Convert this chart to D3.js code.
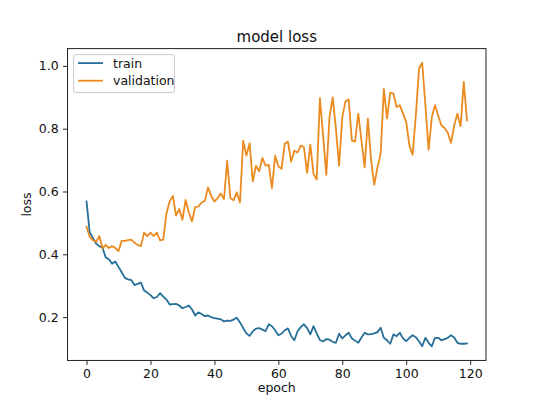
<!DOCTYPE html>
<html>
<head>
<meta charset="utf-8">
<script src="https://cdn.jsdelivr.net/npm/d3@7"></script>
<style>
  html, body { margin: 0; padding: 0; background: #fff; }
  svg { display: block; font-family: "DejaVu Sans", sans-serif; }
</style>
</head>
<body>
<svg id="chart" width="540" height="405"></svg>
<script>
const title = "model loss";
const xLabel = "epoch";
const yLabel = "loss";
const seriesNames = ["train", "validation"];
const xTicks = [0, 20, 40, 60, 80, 100, 120];
const yTicks = [0.2, 0.4, 0.6, 0.8, 1.0];

const train = [
  0.568, 0.470, 0.452, 0.434, 0.426, 0.421, 0.390, 0.384, 0.370, 0.377,
  0.360, 0.343, 0.325, 0.320, 0.318, 0.302, 0.306, 0.310, 0.285, 0.278,
  0.270, 0.260, 0.264, 0.276, 0.265, 0.256, 0.240, 0.241, 0.242, 0.237,
  0.228, 0.232, 0.237, 0.224, 0.205, 0.215, 0.210, 0.203, 0.205, 0.200,
  0.197, 0.195, 0.193, 0.186, 0.189, 0.188, 0.192, 0.198, 0.183, 0.165,
  0.148, 0.140, 0.155, 0.163, 0.165, 0.160, 0.155, 0.177, 0.171, 0.158,
  0.142, 0.147, 0.158, 0.164, 0.140, 0.126, 0.155, 0.168, 0.177, 0.165,
  0.145, 0.171, 0.148, 0.127, 0.122, 0.130, 0.128, 0.121, 0.118, 0.147,
  0.132, 0.142, 0.150, 0.132, 0.125, 0.118, 0.135, 0.150, 0.145, 0.146,
  0.148, 0.152, 0.166, 0.134, 0.126, 0.115, 0.145, 0.139, 0.150, 0.132,
  0.123, 0.134, 0.142, 0.136, 0.123, 0.107, 0.134, 0.118, 0.107, 0.134,
  0.134, 0.126, 0.130, 0.134, 0.142, 0.135, 0.118, 0.115, 0.115, 0.116
];
const validation = [
  0.488, 0.455, 0.445, 0.440, 0.458, 0.419, 0.430, 0.420, 0.426, 0.420,
  0.410, 0.443, 0.443, 0.445, 0.447, 0.437, 0.430, 0.426, 0.469, 0.458,
  0.469, 0.458, 0.469, 0.444, 0.447, 0.530, 0.568, 0.586, 0.523, 0.544,
  0.510, 0.573, 0.533, 0.505, 0.551, 0.552, 0.565, 0.570, 0.613, 0.586,
  0.568, 0.579, 0.594, 0.576, 0.698, 0.579, 0.572, 0.597, 0.565, 0.762,
  0.714, 0.754, 0.632, 0.682, 0.664, 0.707, 0.682, 0.685, 0.611, 0.714,
  0.680, 0.672, 0.752, 0.759, 0.695, 0.730, 0.724, 0.746, 0.741, 0.659,
  0.749, 0.656, 0.638, 0.897, 0.778, 0.653, 0.837, 0.900, 0.800, 0.682,
  0.837, 0.887, 0.893, 0.762, 0.759, 0.848, 0.762, 0.677, 0.832, 0.700,
  0.621, 0.677, 0.720, 0.927, 0.832, 0.915, 0.912, 0.869, 0.875, 0.848,
  0.821, 0.746, 0.717, 0.842, 0.991, 1.010, 0.873, 0.733, 0.837, 0.875,
  0.842, 0.810, 0.802, 0.787, 0.755, 0.810, 0.848, 0.808, 0.949, 0.826
];
const colors = ["#266f99", "#eb8a1f"];

(function () {
const W = 540, H = 405;
const pl = 0.125 * W, pr = 0.9 * W, pt = (1 - 0.88) * H, pb = (1 - 0.11) * H;

const svg = d3.select("#chart");

// scales with matplotlib-like 5% margins
const n = train.length;
const xMin = 0, xMax = n - 1, xPad = (xMax - xMin) * 0.05;
const all = train.concat(validation);
const yMin = d3.min(all), yMax = d3.max(all), yPad = (yMax - yMin) * 0.05;
const x = d3.scaleLinear().domain([xMin - xPad, xMax + xPad]).range([pl, pr]);
const y = d3.scaleLinear().domain([yMin - yPad, yMax + yPad]).range([pb, pt]);

// lines
const line = d3.line().x((d, i) => x(i)).y(d => y(d));
svg.append("clipPath").attr("id", "clip")
  .append("rect").attr("x", pl).attr("y", pt).attr("width", pr - pl).attr("height", pb - pt);
[train, validation].forEach((s, k) => {
  svg.append("path").datum(s)
    .attr("d", line)
    .attr("fill", "none")
    .attr("stroke", colors[k])
    .attr("stroke-width", 1.8)
    .attr("stroke-linejoin", "round")
    .attr("stroke-linecap", "square")
    .attr("clip-path", "url(#clip)");
});

// axes
const fs = 12.5;
const xAxis = d3.axisBottom(x).tickValues(xTicks).tickSize(4.4).tickPadding(4.4).tickFormat(d3.format("d"));
const yAxis = d3.axisLeft(y).tickValues(yTicks).tickSize(4.4).tickPadding(4.4).tickFormat(d3.format(".1f"));
const gx = svg.append("g").attr("transform", `translate(0,${pb})`).call(xAxis);
const gy = svg.append("g").attr("transform", `translate(${pl},0)`).call(yAxis);
[gx, gy].forEach(g => {
  g.select(".domain").remove();
  g.selectAll(".tick line").attr("stroke", "#222").attr("stroke-width", 1);
  g.selectAll(".tick text").attr("fill", "#111").attr("font-size", fs).attr("font-family", "DejaVu Sans");
});

// frame
svg.append("rect").attr("x", pl).attr("y", pt).attr("width", pr - pl).attr("height", pb - pt)
  .attr("fill", "none").attr("stroke", "#222").attr("stroke-width", 1);

// title and labels
svg.append("text").attr("x", (pl + pr) / 2).attr("y", pt - 7)
  .attr("text-anchor", "middle").attr("font-size", 15).attr("fill", "#111").text(title);
svg.append("text").attr("x", (pl + pr) / 2).attr("y", pb + 32)
  .attr("text-anchor", "middle").attr("font-size", fs).attr("fill", "#111").text(xLabel);
svg.append("text").attr("transform", `translate(${pl - 37},${(pt + pb) / 2}) rotate(-90)`)
  .attr("text-anchor", "middle").attr("font-size", fs).attr("fill", "#111").text(yLabel);

// legend
const lg = svg.append("g").attr("transform", `translate(${pl + 6},${pt + 6})`);
lg.append("rect").attr("x", 0).attr("y", 0).attr("width", 101).attr("height", 38).attr("rx", 2.5)
  .attr("fill", "#fff").attr("fill-opacity", 0.8).attr("stroke", "#ccc").attr("stroke-width", 1);
seriesNames.forEach((name, k) => {
  const yy = 8.5 + k * 17.6;
  lg.append("line").attr("x1", 4.5).attr("x2", 29.5).attr("y1", yy).attr("y2", yy)
    .attr("stroke", colors[k]).attr("stroke-width", 1.8);
  lg.append("text").attr("x", 39.5).attr("y", yy + 4.5).attr("font-size", fs).attr("fill", "#111").text(name);
});
})();
</script>
</body>
</html>
